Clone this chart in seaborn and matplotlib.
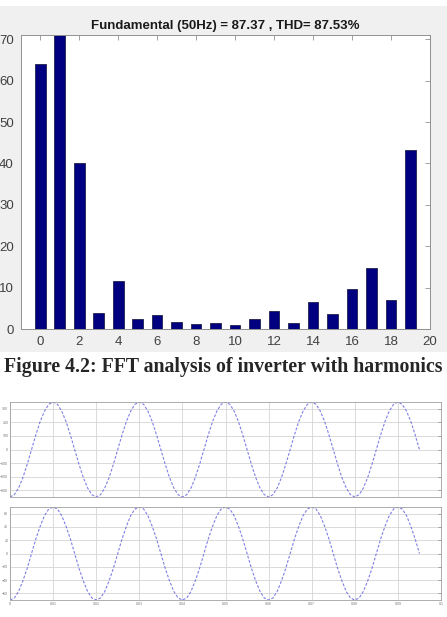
import numpy as np
import pandas as pd
import seaborn as sns
import matplotlib.pyplot as plt
from matplotlib.patches import Rectangle

# FFT magnitudes per harmonic order (bar 1 = fundamental, clipped by the axis)
harmonic = list(range(20))
magnitude = [64.0, 87.37, 40.1, 3.85, 11.7, 2.5, 3.4, 1.7, 1.2, 1.45,
             1.0, 2.6, 4.4, 1.4, 6.5, 3.75, 9.8, 14.8, 7.1, 43.3]
title_txt = "Fundamental (50Hz) = 87.37 , THD= 87.53%"
caption_txt = "Figure 4.2: FFT analysis of inverter with harmonics"

time_ms = list(range(96))
voltage = [-350, -333, -283, -206, -108, 0, 108, 206, 283, 333,
           350, 333, 283, 206, 108, 0, -108, -206, -283, -333,
           -350, -333, -283, -206, -108, 0, 108, 206, 283, 333,
           350, 333, 283, 206, 108, 0, -108, -206, -283, -333,
           -350, -333, -283, -206, -108, 0, 108, 206, 283, 333,
           350, 333, 283, 206, 108, 0, -108, -206, -283, -333,
           -350, -333, -283, -206, -108, 0, 108, 206, 283, 333,
           350, 333, 283, 206, 108, 0, -108, -206, -283, -333,
           -350, -333, -283, -206, -108, 0, 108, 206, 283, 333,
           350, 333, 283, 206, 108, 0]
current = [-70, -67, -57, -41, -22, 0, 22, 41, 57, 67,
           70, 67, 57, 41, 22, 0, -22, -41, -57, -67,
           -70, -67, -57, -41, -22, 0, 22, 41, 57, 67,
           70, 67, 57, 41, 22, 0, -22, -41, -57, -67,
           -70, -67, -57, -41, -22, 0, 22, 41, 57, 67,
           70, 67, 57, 41, 22, 0, -22, -41, -57, -67,
           -70, -67, -57, -41, -22, 0, 22, 41, 57, 67,
           70, 67, 57, 41, 22, 0, -22, -41, -57, -67,
           -70, -67, -57, -41, -22, 0, 22, 41, 57, 67,
           70, 67, 57, 41, 22, 0]

sns.set_style("white")
plt.rcParams['font.family'] = ['Liberation Sans', 'DejaVu Sans']

W, H = 447, 617
fig = plt.figure(figsize=(W / 100, H / 100), dpi=100)
fig.patch.set_facecolor("white")

def box(x0, y0, x1, y1):
    # pixel box (top-left origin) -> figure fraction rect
    return [x0 / W, 1 - y1 / H, (x1 - x0) / W, (y1 - y0) / H]

# matlab window grey
fig.add_artist(Rectangle((0, 1 - 352 / H), 1, (352 - 6) / H, transform=fig.transFigure,
                         facecolor="#f0f0f0", edgecolor="none", zorder=0))

# ---- FFT bar chart
ax = fig.add_axes(box(20.7, 35, 430, 329.3))
df = pd.DataFrame({"harmonic": harmonic, "mag": magnitude})
sns.barplot(data=df, x="harmonic", y="mag", native_scale=True, width=0.55,
            color="#000080", saturation=1, edgecolor="#20204a", linewidth=0.6, ax=ax)
ax.set_facecolor("white")
ax.set_xlim(-1, 20)
ax.set_ylim(0, 71)
ax.set_xticks(range(0, 21, 2))
ax.set_yticks(range(0, 71, 10))
ax.set_xlabel("")
ax.set_ylabel("")
ax.tick_params(direction="in", length=3.5, width=0.6, top=True, right=True,
               labelsize=9.5, colors="#909090", labelcolor="#404040", pad=5)
for s in ax.spines.values():
    s.set_color("#909090")
    s.set_linewidth(0.7)
ax.set_title(title_txt, fontsize=9.5, fontweight="bold", color="#1a1a1a", pad=4)

fig.text(0.5, 1 - 367 / H, caption_txt, ha="center", va="center",
         family=["Liberation Serif", "DejaVu Serif"], fontweight="bold", fontsize=14.3)

# ---- waveform panels
def wave(rect, values, yticks, ylim):
    a = fig.add_axes(rect)
    sns.lineplot(x=np.array(time_ms) / 1000, y=values, ax=a, color="#6a6ae0",
                 linewidth=0.8, linestyle=(0, (2.5, 1.5)), alpha=0.85)
    a.set_xlim(0, 0.1)
    a.set_ylim(*ylim)
    a.set_xticks(np.arange(0, 0.101, 0.01))
    a.set_yticks(yticks)
    a.grid(True, color="#d4d4d4", linewidth=0.6)
    a.tick_params(direction="in", length=2.5, width=0.5, right=True,
                  labelsize=2.6, colors="#888888", labelcolor="#777777", pad=1.2)
    for s in a.spines.values():
        s.set_color("#a0a0a0")
        s.set_linewidth(0.6)
    return a

a1 = wave(box(10, 402, 441, 497), voltage, range(-300, 301, 100), (-350, 350))
a1.set_xticklabels([])
a2 = wave(box(10, 507, 441, 600), current, range(-60, 61, 20), (-70, 70))
a2.set_xticklabels(["0", "0.01", "0.02", "0.03", "0.04", "0.05",
                    "0.06", "0.07", "0.08", "0.09", "0.1"])

fig.savefig("out.png", dpi=100)
